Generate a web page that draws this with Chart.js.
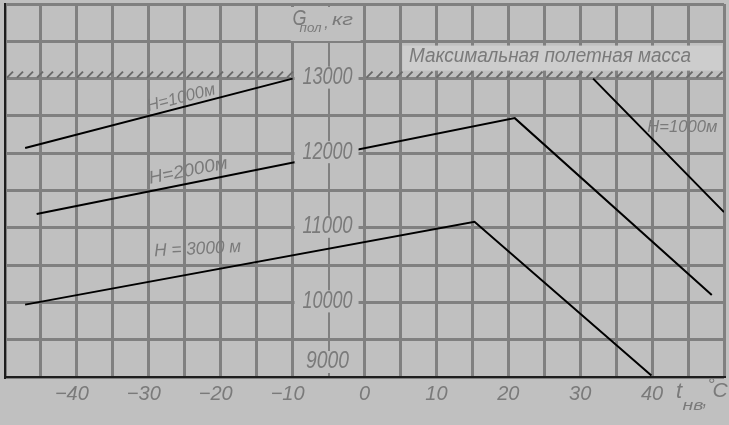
<!DOCTYPE html>
<html>
<head>
<meta charset="utf-8">
<script src="https://cdn.jsdelivr.net/npm/chart.js@4.4.0/dist/chart.umd.min.js"></script>
<style>
  html, body { margin: 0; padding: 0; background: #c0c0c0; }
  #wrap { width: 729px; height: 425px; }
</style>
</head>
<body>
<div id="wrap"><canvas id="chart-area" width="729" height="425"></canvas></div>
<script>
// outside air temperature, deg C  /  flight mass, kg
var h1000Temp = [-47.2, -10, null, 31.8, 50];
var h1000Mass = [12070, 13000, null, 13000, 11210];
var h2000Temp = [-45.6, 20.9, 48.3];
var h2000Mass = [11185, 12470, 10100];
var h3000Temp = [-47.2, 15.3, 39.9];
var h3000Mass = [9970, 11080, 9020];
var maxMass = 13000;
var xTickLabels = [-40, -30, -20, -10, 0, 10, 20, 30, 40];
var yTickLabels = [9000, 10000, 11000, 12000, 13000];

var BG = '#c0c0c0';
var INK = '#7a7a7a';
var FONT = '"Liberation Sans", Arial, sans-serif';

var toPoints = function (temps, mass) {
    return temps.map(function (t, i) {
        return { x: t, y: mass[i] };
    });
};

// text squeezed/stretched to a given width, like the narrow lettering of the scan
var fitText = function (ctx, str, cx, cy, width, size, angle) {
    ctx.save();
    ctx.font = 'italic ' + size + 'px ' + FONT;
    var w = ctx.measureText(str).width;
    ctx.translate(cx, cy);
    ctx.rotate((angle || 0) * Math.PI / 180);
    if (width) ctx.scale(width / w, 1);
    ctx.textAlign = 'center';
    ctx.textBaseline = 'middle';
    ctx.fillStyle = INK;
    ctx.fillText(str, 0, 0);
    ctx.restore();
};

var paper = {
    id: 'paper',
    beforeDraw: function (chart) {
        var ctx = chart.ctx;
        ctx.save();
        ctx.fillStyle = BG;
        ctx.fillRect(0, 0, chart.width, chart.height);
        ctx.restore();
    },
    beforeDatasetsDraw: function (chart) {
        // hatching of the max flight mass limit
        var ctx = chart.ctx, x = chart.scales.x, y = chart.scales.y;
        var yy = y.getPixelForValue(maxMass);
        var parts = [[x.left, x.getPixelForValue(-10)], [x.getPixelForValue(0), x.right - 4]];
        ctx.save();
        ctx.strokeStyle = '#6a6a6a';
        ctx.lineWidth = 2;
        parts.forEach(function (p) {
            for (var px = p[0] + 2; px < p[1]; px += 10) {
                ctx.beginPath();
                ctx.moveTo(px, yy - 1);
                ctx.lineTo(px + 6, yy - 7);
                ctx.stroke();
            }
        });
        ctx.restore();
    },
    afterDatasetsDraw: function (chart) {
        var ctx = chart.ctx, x = chart.scales.x, y = chart.scales.y, area = chart.chartArea;
        var ax = x.getPixelForValue(-5) - 2;

        // value labels along the inner axis
        yTickLabels.forEach(function (v) {
            var cy = y.getPixelForValue(v) - (v === 9000 ? 15 : 1);
            ctx.fillStyle = BG;
            ctx.fillRect(ax - 32, cy - 11, 64, 22);
            fitText(ctx, String(v), ax + 1, cy, v < 10000 ? 43 : 50, 23);
        });

        // G пол, кг
        ctx.fillStyle = BG;
        ctx.fillRect(ax - 36, area.top + 3, 70, 34);
        fitText(ctx, 'G', ax - 27, area.top + 15, 14, 22);
        fitText(ctx, 'пол', ax - 16, area.top + 24, 22, 13);
        fitText(ctx, ',', ax, area.top + 20, 0, 16);
        fitText(ctx, 'кг', ax + 16, area.top + 16, 21, 17);

        // Максимальная полетная масса
        var yMax = y.getPixelForValue(maxMass);
        ctx.fillStyle = '#cdcdcd';
        ctx.fillRect(x.getPixelForValue(5) + 2, yMax - 33, area.right - x.getPixelForValue(5) - 4, 25);
        fitText(ctx, 'Максимальная полетная масса', x.getPixelForValue(25.8), yMax - 22, 282, 20);

        // curve labels
        fitText(ctx, 'Н=1000м', x.getPixelForValue(-25.5), y.getPixelForValue(12740), 70, 17, -14.5);
        fitText(ctx, 'Н=2000м', x.getPixelForValue(-24.5), y.getPixelForValue(11760), 80, 18, -11.3);
        fitText(ctx, 'Н = 3000 м', x.getPixelForValue(-23.2), y.getPixelForValue(10715), 87, 18, -3);
        fitText(ctx, 'Н=1000м', x.getPixelForValue(44.2), y.getPixelForValue(12350), 70, 17, 0);

        // t нв, °C
        fitText(ctx, 't', area.right - 45, area.bottom + 15, 0, 22);
        fitText(ctx, 'нв', area.right - 31, area.bottom + 29, 21, 14);
        fitText(ctx, ',', area.right - 19, area.bottom + 24, 0, 18);
        fitText(ctx, '°', area.right - 13, area.bottom + 9, 0, 18);
        fitText(ctx, 'C', area.right - 4, area.bottom + 14, 0, 21);
    }
};

var lineStyle = {
    borderColor: '#000000',
    borderWidth: 2,
    pointRadius: 0,
    fill: false,
    spanGaps: false,
    tension: 0
};

var config = {
    type: 'line',
    data: {
        datasets: [
            Object.assign({ label: 'Н=1000 м', data: toPoints(h1000Temp, h1000Mass) }, lineStyle),
            Object.assign({ label: 'Н=2000 м', data: toPoints(h2000Temp, h2000Mass) }, lineStyle),
            Object.assign({ label: 'Н=3000 м', data: toPoints(h3000Temp, h3000Mass) }, lineStyle)
        ]
    },
    options: {
        responsive: false,
        animation: false,
        events: [],
        layout: { padding: { left: 3, right: 5, top: 4, bottom: 0 } },
        plugins: {
            legend: { display: false },
            tooltip: { enabled: false }
        },
        scales: {
            x: {
                type: 'linear',
                min: -50,
                max: 50,
                afterFit: function (scale) { scale.height = 48; },
                grid: {
                    color: '#808080',
                    lineWidth: function (c) { return c.tick && c.tick.value === -5 ? 2 : 3; },
                    drawTicks: false
                },
                border: { color: '#1e1e1e', width: 2 },
                ticks: {
                    stepSize: 5,
                    autoSkip: false,
                    maxRotation: 0,
                    padding: 5,
                    color: INK,
                    font: { family: FONT, size: 20, style: 'italic' },
                    callback: function (v) {
                        if (xTickLabels.indexOf(v) < 0) return '';
                        return v < 0 ? '\u2212' + Math.abs(v) + '\u2002' : String(v);
                    }
                }
            },
            y: {
                type: 'linear',
                min: 9000,
                max: 14000,
                afterFit: function (scale) { scale.width = 0; },
                grid: { color: '#808080', lineWidth: 3, drawTicks: false },
                border: { color: '#1e1e1e', width: 2 },
                ticks: { stepSize: 500, display: false }
            }
        }
    },
    plugins: [paper]
};

var ctx = document.getElementById('chart-area').getContext('2d');
var myChart = new Chart(ctx, config);
</script>
</body>
</html>
